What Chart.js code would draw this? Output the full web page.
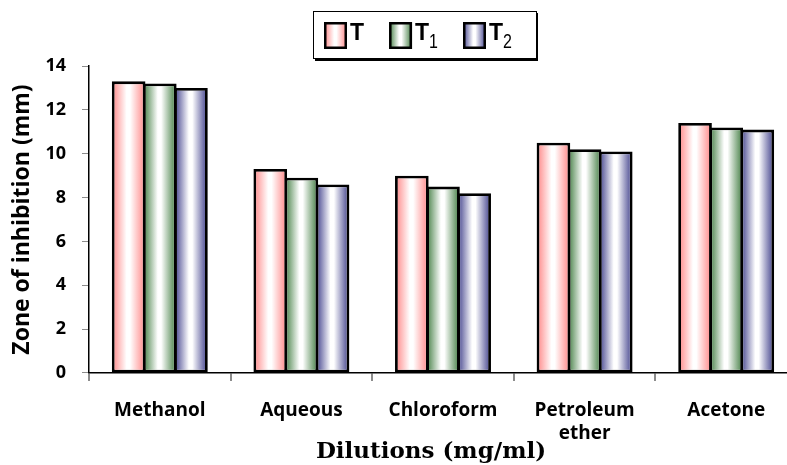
<!DOCTYPE html>
<html>
<head>
<meta charset="utf-8">
<script src="https://cdn.jsdelivr.net/npm/chart.js@4.4.1/dist/chart.umd.min.js"></script>
<style>
  html, body { margin: 0; padding: 0; background: #fff; overflow: hidden; width: 787px; height: 465px; }
  #plot { position: absolute; left: 0; top: 0; }
</style>
</head>
<body>
<canvas id="plot" width="862" height="465"></canvas>
<script>
// Solvent extracts on the category axis
const categories = ['Methanol', 'Aqueous', 'Chloroform', ['Petroleum', 'ether'], 'Acetone'];
// Series names (subscripts written as Unicode subscript digits)
const seriesNames = ['T', 'T\u2081', 'T\u2082'];
// Zone of inhibition (mm) for each series
const valuesT  = [13.3, 9.3, 9.0, 10.5, 11.4];
const valuesT1 = [13.2, 8.9, 8.5, 10.2, 11.2];
const valuesT2 = [13.0, 8.6, 8.2, 10.1, 11.1];
// Value-axis ticks
const yTicks = [0, 2, 4, 6, 8, 10, 12, 14];

const edgeColors = ['#ff8484', '#3f7b3f', '#3c3c89'];
const CAT_PCT = 0.66;
const BAR_PCT = 1.08;

function addStops(g, color) {
  g.addColorStop(0, color);
  g.addColorStop(0.44, '#ffffff');
  g.addColorStop(0.54, '#ffffff');
  g.addColorStop(1, color);
  return g;
}

// Horizontal colour -> white -> colour shading across each bar
function barFill(ctx) {
  const s = ctx.datasetIndex;
  const chart = ctx.chart;
  const x = chart.scales.x;
  if (ctx.dataIndex === undefined || !x || !chart.chartArea) return edgeColors[s];
  const count = chart.data.datasets.length;
  const slot = (x.width / chart.data.labels.length) * CAT_PCT / count;
  const w = slot * BAR_PCT;
  const c = x.getPixelForValue(ctx.dataIndex) + (s - (count - 1) / 2) * slot;
  return addStops(chart.ctx.createLinearGradient(c - w / 2, 0, c + w / 2, 0), edgeColors[s]);
}

// Boxed legend at the top with shaded swatches and subscripted names
const boxedLegend = {
  id: 'boxedLegend',
  afterDraw(chart) {
    const ctx = chart.ctx;
    const fontMain = 'bold 23px "Liberation Sans Narrow", "Liberation Sans", Arial, sans-serif';
    const fontSub = '20px "Liberation Sans Narrow", "Liberation Sans", Arial, sans-serif';
    const sw = 23, sh = 27, gapText = 3, gapItem = 25;
    ctx.save();
    const items = chart.data.datasets.map((ds, i) => {
      const m = /^(.*?)([\u2080-\u2089]*)$/.exec(ds.label);
      const base = m[1];
      const sub = Array.from(m[2]).map(ch => String.fromCharCode(ch.charCodeAt(0) - 0x2080 + 48)).join('');
      ctx.font = fontMain;
      const bw = ctx.measureText(base).width;
      ctx.font = fontSub;
      const subw = sub ? ctx.measureText(sub).width * 0.8 : 0;
      return { base, sub, bw, subw, w: sw + gapText + bw + subw, color: edgeColors[i] };
    });
    const total = items.reduce((a, it) => a + it.w, 0) + gapItem * (items.length - 1);
    const padL = 11, padR = 24;
    const boxW = Math.round(total + padL + padR);
    const boxLeft = Math.round(424 - boxW / 2);
    const boxTop = 11, boxH = 47;

    ctx.fillStyle = '#000';
    ctx.fillRect(boxLeft + 2, boxTop + boxH, boxW, 3);
    ctx.fillRect(boxLeft + boxW, boxTop + 2, 2, boxH);
    ctx.strokeStyle = '#000';
    ctx.lineWidth = 1;
    ctx.strokeRect(boxLeft + 0.5, boxTop + 0.5, boxW, boxH);

    let x = boxLeft + padL;
    items.forEach(it => {
      const y = 22;
      ctx.fillStyle = addStops(ctx.createLinearGradient(x, 0, x + sw, 0), it.color);
      ctx.fillRect(x, y, sw, sh);
      ctx.strokeStyle = '#000';
      ctx.lineWidth = 2.5;
      ctx.strokeRect(x + 1.25, y + 1.25, sw - 2.5, sh - 2.5);
      ctx.fillStyle = '#000';
      ctx.textAlign = 'left';
      ctx.textBaseline = 'alphabetic';
      ctx.font = fontMain;
      ctx.fillText(it.base, x + sw + gapText, 39.5);
      if (it.sub) {
        // narrow, lowered digit
        ctx.save();
        ctx.font = fontSub;
        ctx.translate(x + sw + gapText + it.bw, 47.5);
        ctx.scale(0.8, 1);
        ctx.fillText(it.sub, 0, 0);
        ctx.restore();
      }
      x += it.w + gapItem;
    });
    ctx.restore();
  }
};

const barStyle = {
  backgroundColor: barFill,
  borderColor: '#000000',
  borderWidth: 2.8,
  borderSkipped: false,
  categoryPercentage: CAT_PCT,
  barPercentage: BAR_PCT
};

new Chart(document.getElementById('plot'), {
  type: 'bar',
  data: {
    labels: categories,
    datasets: [
      Object.assign({ label: seriesNames[0], data: valuesT }, barStyle),
      Object.assign({ label: seriesNames[1], data: valuesT1 }, barStyle),
      Object.assign({ label: seriesNames[2], data: valuesT2 }, barStyle)
    ]
  },
  options: {
    responsive: false,
    animation: false,
    devicePixelRatio: 1,
    layout: { padding: { top: 66, left: 0, right: 0, bottom: 6 } },
    scales: {
      x: {
        offset: true,
        afterFit: s => { s.height = 72; },
        grid: { offset: true, drawOnChartArea: false, tickLength: 8, color: '#8c8c8c', lineWidth: 2 },
        border: { display: true, color: '#000', width: 1.5 },
        ticks: {
          color: '#000',
          font: { family: '"Open Sans"', weight: 'bold', size: 19, lineHeight: 1.21 },
          padding: 18.5,
          maxRotation: 0,
          autoSkip: false
        }
      },
      y: {
        min: 0,
        max: 14,
        afterBuildTicks: s => { s.ticks = yTicks.map(v => ({ value: v })); },
        afterFit: s => { s.width = 89; },
        ticks: { color: '#000', font: { family: '"Open Sans"', weight: 'bold', size: 18 }, padding: 16 },
        grid: { drawOnChartArea: false, tickLength: 7, color: '#8c8c8c' },
        border: { color: '#000', width: 1.5 },
        title: {
          display: true,
          text: 'Zone of inhibition (mm)',
          color: '#000',
          font: { family: '"Open Sans"', weight: 'bold', size: 23 },
          padding: { top: 9, bottom: 0 }
        }
      },
      yRight: {
        type: 'linear',
        position: 'right',
        display: true,
        grid: { display: false },
        border: { display: false },
        ticks: { display: false },
        afterFit: s => { s.width = 65; }
      }
    },
    plugins: {
      colors: { enabled: false },
      legend: { display: false },
      tooltip: { enabled: false },
      title: {
        display: true,
        position: 'bottom',
        text: 'Dilutions (mg/ml)',
        color: '#000',
        font: { family: '"DejaVu Serif"', weight: 'bold', size: 23, lineHeight: 0.61 },
        padding: { top: 0, bottom: 0 }
      }
    }
  },
  plugins: [boxedLegend]
});
</script>
</body>
</html>
